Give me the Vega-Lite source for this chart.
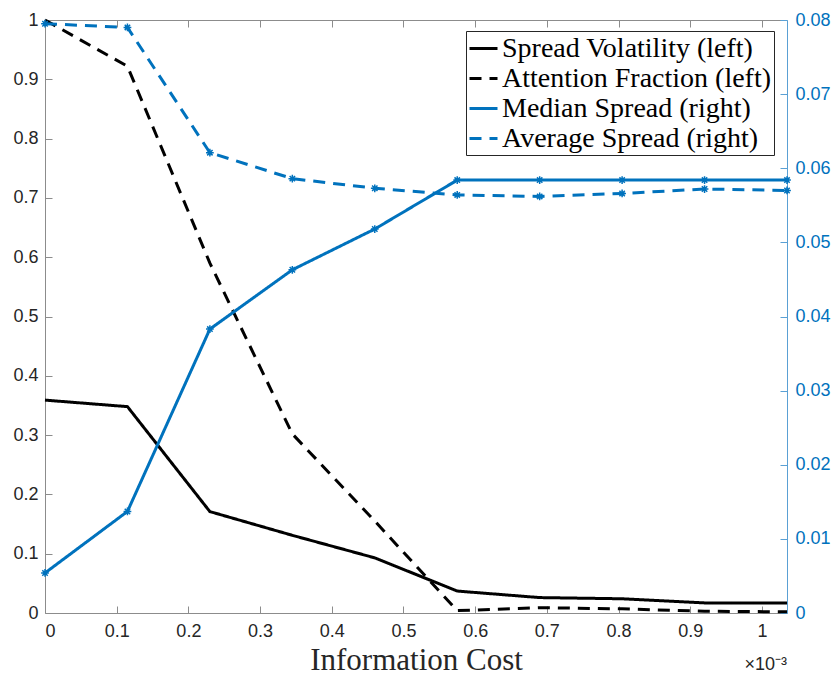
{
  "$schema": "https://vega.github.io/schema/vega-lite/v6.json",
  "width": 742,
  "height": 593,
  "autosize": {"type": "none"},
  "padding": {"left": 45, "top": 20, "right": 49, "bottom": 63},
  "background": "white",
  "config": {
    "view": {"stroke": null},
    "axis": {
      "labelFont": "Liberation Sans",
      "labelFontSize": 18,
      "labelColor": "#262626",
      "domainColor": "#8c8c8c",
      "tickColor": "#8c8c8c",
      "grid": false
    },
    "legend": {
      "title": null,
      "orient": "none",
      "legendX": 421,
      "legendY": 11,
      "symbolType": "stroke",
      "symbolSize": 784,
      "symbolStrokeWidth": 3,
      "labelFont": "Liberation Serif",
      "labelFontSize": 28,
      "labelColor": "#000000",
      "labelLimit": 400,
      "labelOffset": 3,
      "rowPadding": 0,
      "padding": 2,
      "strokeColor": "#262626",
      "fillColor": "white"
    }
  },
  "datasets": {
    "series": [
      {"cost": 0.0, "series": "Spread Volatility (left)", "side": "left", "value": 0.359},
      {"cost": 0.000115, "series": "Spread Volatility (left)", "side": "left", "value": 0.348},
      {"cost": 0.00023, "series": "Spread Volatility (left)", "side": "left", "value": 0.171},
      {"cost": 0.000345, "series": "Spread Volatility (left)", "side": "left", "value": 0.131},
      {"cost": 0.00046, "series": "Spread Volatility (left)", "side": "left", "value": 0.093},
      {"cost": 0.000575, "series": "Spread Volatility (left)", "side": "left", "value": 0.037},
      {"cost": 0.00069, "series": "Spread Volatility (left)", "side": "left", "value": 0.026},
      {"cost": 0.000805, "series": "Spread Volatility (left)", "side": "left", "value": 0.024},
      {"cost": 0.00092, "series": "Spread Volatility (left)", "side": "left", "value": 0.017},
      {"cost": 0.001035, "series": "Spread Volatility (left)", "side": "left", "value": 0.017},
      {"cost": 0.0, "series": "Attention Fraction (left)", "side": "left", "value": 1.0},
      {"cost": 0.000115, "series": "Attention Fraction (left)", "side": "left", "value": 0.922},
      {"cost": 0.00023, "series": "Attention Fraction (left)", "side": "left", "value": 0.59},
      {"cost": 0.000345, "series": "Attention Fraction (left)", "side": "left", "value": 0.302},
      {"cost": 0.00046, "series": "Attention Fraction (left)", "side": "left", "value": 0.155},
      {"cost": 0.000575, "series": "Attention Fraction (left)", "side": "left", "value": 0.004},
      {"cost": 0.00069, "series": "Attention Fraction (left)", "side": "left", "value": 0.009},
      {"cost": 0.000805, "series": "Attention Fraction (left)", "side": "left", "value": 0.007},
      {"cost": 0.00092, "series": "Attention Fraction (left)", "side": "left", "value": 0.003},
      {"cost": 0.001035, "series": "Attention Fraction (left)", "side": "left", "value": 0.002},
      {"cost": 0.0, "series": "Median Spread (right)", "side": "right", "value": 0.0054},
      {"cost": 0.000115, "series": "Median Spread (right)", "side": "right", "value": 0.0137},
      {"cost": 0.00023, "series": "Median Spread (right)", "side": "right", "value": 0.0383},
      {"cost": 0.000345, "series": "Median Spread (right)", "side": "right", "value": 0.0463},
      {"cost": 0.00046, "series": "Median Spread (right)", "side": "right", "value": 0.0518},
      {"cost": 0.000575, "series": "Median Spread (right)", "side": "right", "value": 0.0584},
      {"cost": 0.00069, "series": "Median Spread (right)", "side": "right", "value": 0.0584},
      {"cost": 0.000805, "series": "Median Spread (right)", "side": "right", "value": 0.0584},
      {"cost": 0.00092, "series": "Median Spread (right)", "side": "right", "value": 0.0584},
      {"cost": 0.001035, "series": "Median Spread (right)", "side": "right", "value": 0.0584},
      {"cost": 0.0, "series": "Average Spread (right)", "side": "right", "value": 0.0795},
      {"cost": 0.000115, "series": "Average Spread (right)", "side": "right", "value": 0.079},
      {"cost": 0.00023, "series": "Average Spread (right)", "side": "right", "value": 0.0621},
      {"cost": 0.000345, "series": "Average Spread (right)", "side": "right", "value": 0.0586},
      {"cost": 0.00046, "series": "Average Spread (right)", "side": "right", "value": 0.0573},
      {"cost": 0.000575, "series": "Average Spread (right)", "side": "right", "value": 0.0564},
      {"cost": 0.00069, "series": "Average Spread (right)", "side": "right", "value": 0.0562},
      {"cost": 0.000805, "series": "Average Spread (right)", "side": "right", "value": 0.0566},
      {"cost": 0.00092, "series": "Average Spread (right)", "side": "right", "value": 0.0572},
      {"cost": 0.001035, "series": "Average Spread (right)", "side": "right", "value": 0.057}
    ],
    "note": [{"cost": 0.001035, "value": 0, "label": "×10⁻³"}]
  },
  "layer": [
    {
      "layer": [
        {
          "data": {"name": "series"},
          "transform": [{"filter": "datum.side === 'left'"}],
          "mark": {"type": "line", "strokeWidth": 3},
          "encoding": {
            "x": {
              "field": "cost", "type": "quantitative",
              "scale": {"domain": [0, 0.001035], "nice": false, "zero": false},
              "axis": {
                "orient": "bottom",
                "values": [0, 0.0001, 0.0002, 0.0003, 0.0004, 0.0005, 0.0006, 0.0007, 0.0008, 0.0009, 0.001],
                "labelExpr": "format(datum.value * 1000, '~g')",
                "tickSize": -7,
                "labelPadding": 16,
                "title": "Information Cost",
                "titleFont": "Liberation Serif",
                "titleFontSize": 31,
                "titleFontWeight": "normal",
                "titleColor": "#262626",
                "titleBaseline": "alphabetic",
                "titleY": 56
              }
            },
            "y": {
              "field": "value", "type": "quantitative",
              "scale": {"domain": [0, 1], "nice": false},
              "axis": {
                "orient": "left",
                "values": [0, 0.1, 0.2, 0.3, 0.4, 0.5, 0.6, 0.7, 0.8, 0.9, 1],
                "format": "~g",
                "tickSize": -7,
                "labelPadding": 14,
                "title": null
              }
            },
            "color": {
              "field": "series", "type": "nominal",
              "scale": {
                "domain": ["Spread Volatility (left)", "Attention Fraction (left)", "Median Spread (right)", "Average Spread (right)"],
                "range": ["#000000", "#000000", "#0072BD", "#0072BD"]
              },
              "legend": {"title": null}
            },
            "strokeDash": {
              "field": "series", "type": "nominal",
              "scale": {
                "domain": ["Spread Volatility (left)", "Attention Fraction (left)", "Median Spread (right)", "Average Spread (right)"],
                "range": [[1, 0], [12, 8], [1, 0], [12, 8]]
              },
              "legend": {"title": null}
            }
          }
        },
        {
          "data": {"name": "note"},
          "mark": {"type": "text", "align": "right", "baseline": "alphabetic", "dy": 57, "font": "Liberation Sans", "fill": "#262626"},
          "encoding": {
            "x": {"field": "cost", "type": "quantitative"},
            "y": {"field": "value", "type": "quantitative"},
            "text": {"field": "label", "type": "nominal"},
            "size": {"value": 18}
          }
        }
      ]
    },
    {
      "data": {"name": "series"},
      "transform": [{"filter": "datum.side === 'right'"}],
      "encoding": {
        "x": {
          "field": "cost", "type": "quantitative",
          "scale": {"domain": [0, 0.001035], "nice": false, "zero": false},
          "axis": {
            "orient": "top",
            "values": [0, 0.0001, 0.0002, 0.0003, 0.0004, 0.0005, 0.0006, 0.0007, 0.0008, 0.0009, 0.001],
            "labels": false,
            "tickSize": -7,
            "title": null
          }
        },
        "y": {
          "field": "value", "type": "quantitative",
          "scale": {"domain": [0, 0.08], "nice": false},
          "axis": {
            "orient": "right",
            "values": [0, 0.01, 0.02, 0.03, 0.04, 0.05, 0.06, 0.07, 0.08],
            "format": "~g",
            "tickSize": -7,
            "labelPadding": 15,
            "labelColor": "#0072BD",
            "domainColor": "#5aa0d4",
            "tickColor": "#5aa0d4",
            "title": null
          }
        }
      },
      "layer": [
        {
          "mark": {"type": "line", "strokeWidth": 3},
          "encoding": {
            "color": {
              "field": "series", "type": "nominal",
              "scale": {
                "domain": ["Spread Volatility (left)", "Attention Fraction (left)", "Median Spread (right)", "Average Spread (right)"],
                "range": ["#000000", "#000000", "#0072BD", "#0072BD"]
              },
              "legend": {"title": null}
            },
            "strokeDash": {
              "field": "series", "type": "nominal",
              "scale": {
                "domain": ["Spread Volatility (left)", "Attention Fraction (left)", "Median Spread (right)", "Average Spread (right)"],
                "range": [[1, 0], [12, 8], [1, 0], [12, 8]]
              },
              "legend": {"title": null}
            }
          }
        },
        {
          "mark": {"type": "point", "shape": "M-1,0H1M0,-1V1M-0.7,-0.7L0.7,0.7M-0.7,0.7L0.7,-0.7", "size": 60, "filled": false, "strokeWidth": 1.5, "color": "#0072BD", "opacity": 1}
        }
      ]
    }
  ],
  "resolve": {"scale": {"y": "independent"}, "axis": {"x": "independent", "y": "independent"}}
}
